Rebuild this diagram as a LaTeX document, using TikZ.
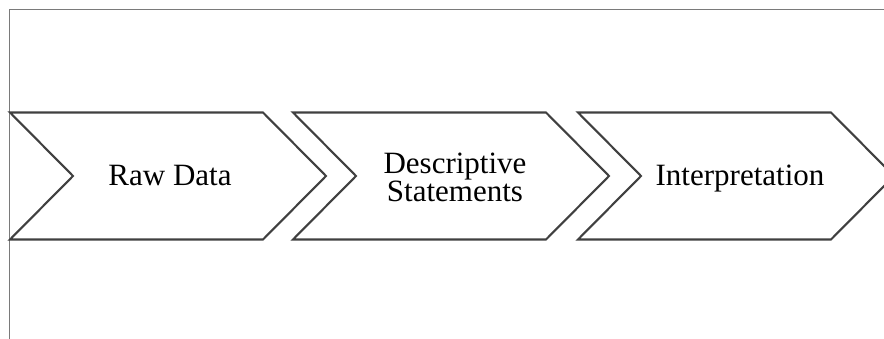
\documentclass[tikz,border=0pt]{standalone}
\usepackage{fontspec}
\setmainfont{Liberation Serif}
\begin{document}
\begin{tikzpicture}[x=1pt,y=-1pt,
  frame/.style={draw=black!52, line width=1.8pt},
  chev/.style={draw=black!75, line width=2.1pt, line join=miter},
  lbl/.style={font=\fontsize{31}{28.5}\selectfont, align=center, inner sep=0pt}]
\useasboundingbox (0,0) rectangle (884,339);
% outer frame: top and left edges only
\draw[frame] (9.5,339) -- (9.5,9.5) -- (884,9.5);
% chevron steps: left edge x, notch depth 63, total length 316
\foreach \x in {10,293,578}{
  \draw[chev] (\x,112.5) -- (\x+253,112.5) -- (\x+316,176) -- (\x+253,239.5)
    -- (\x,239.5) -- (\x+63,176) -- cycle;
}
\node[lbl, anchor=base] (raw) at (170,186) {Raw Data};
\node[lbl] (desc) at (455,177.5) {Descriptive\\Statements};
\node[lbl, anchor=base] (interp) at (740,186) {Interpretation};
\end{tikzpicture}
\end{document}
